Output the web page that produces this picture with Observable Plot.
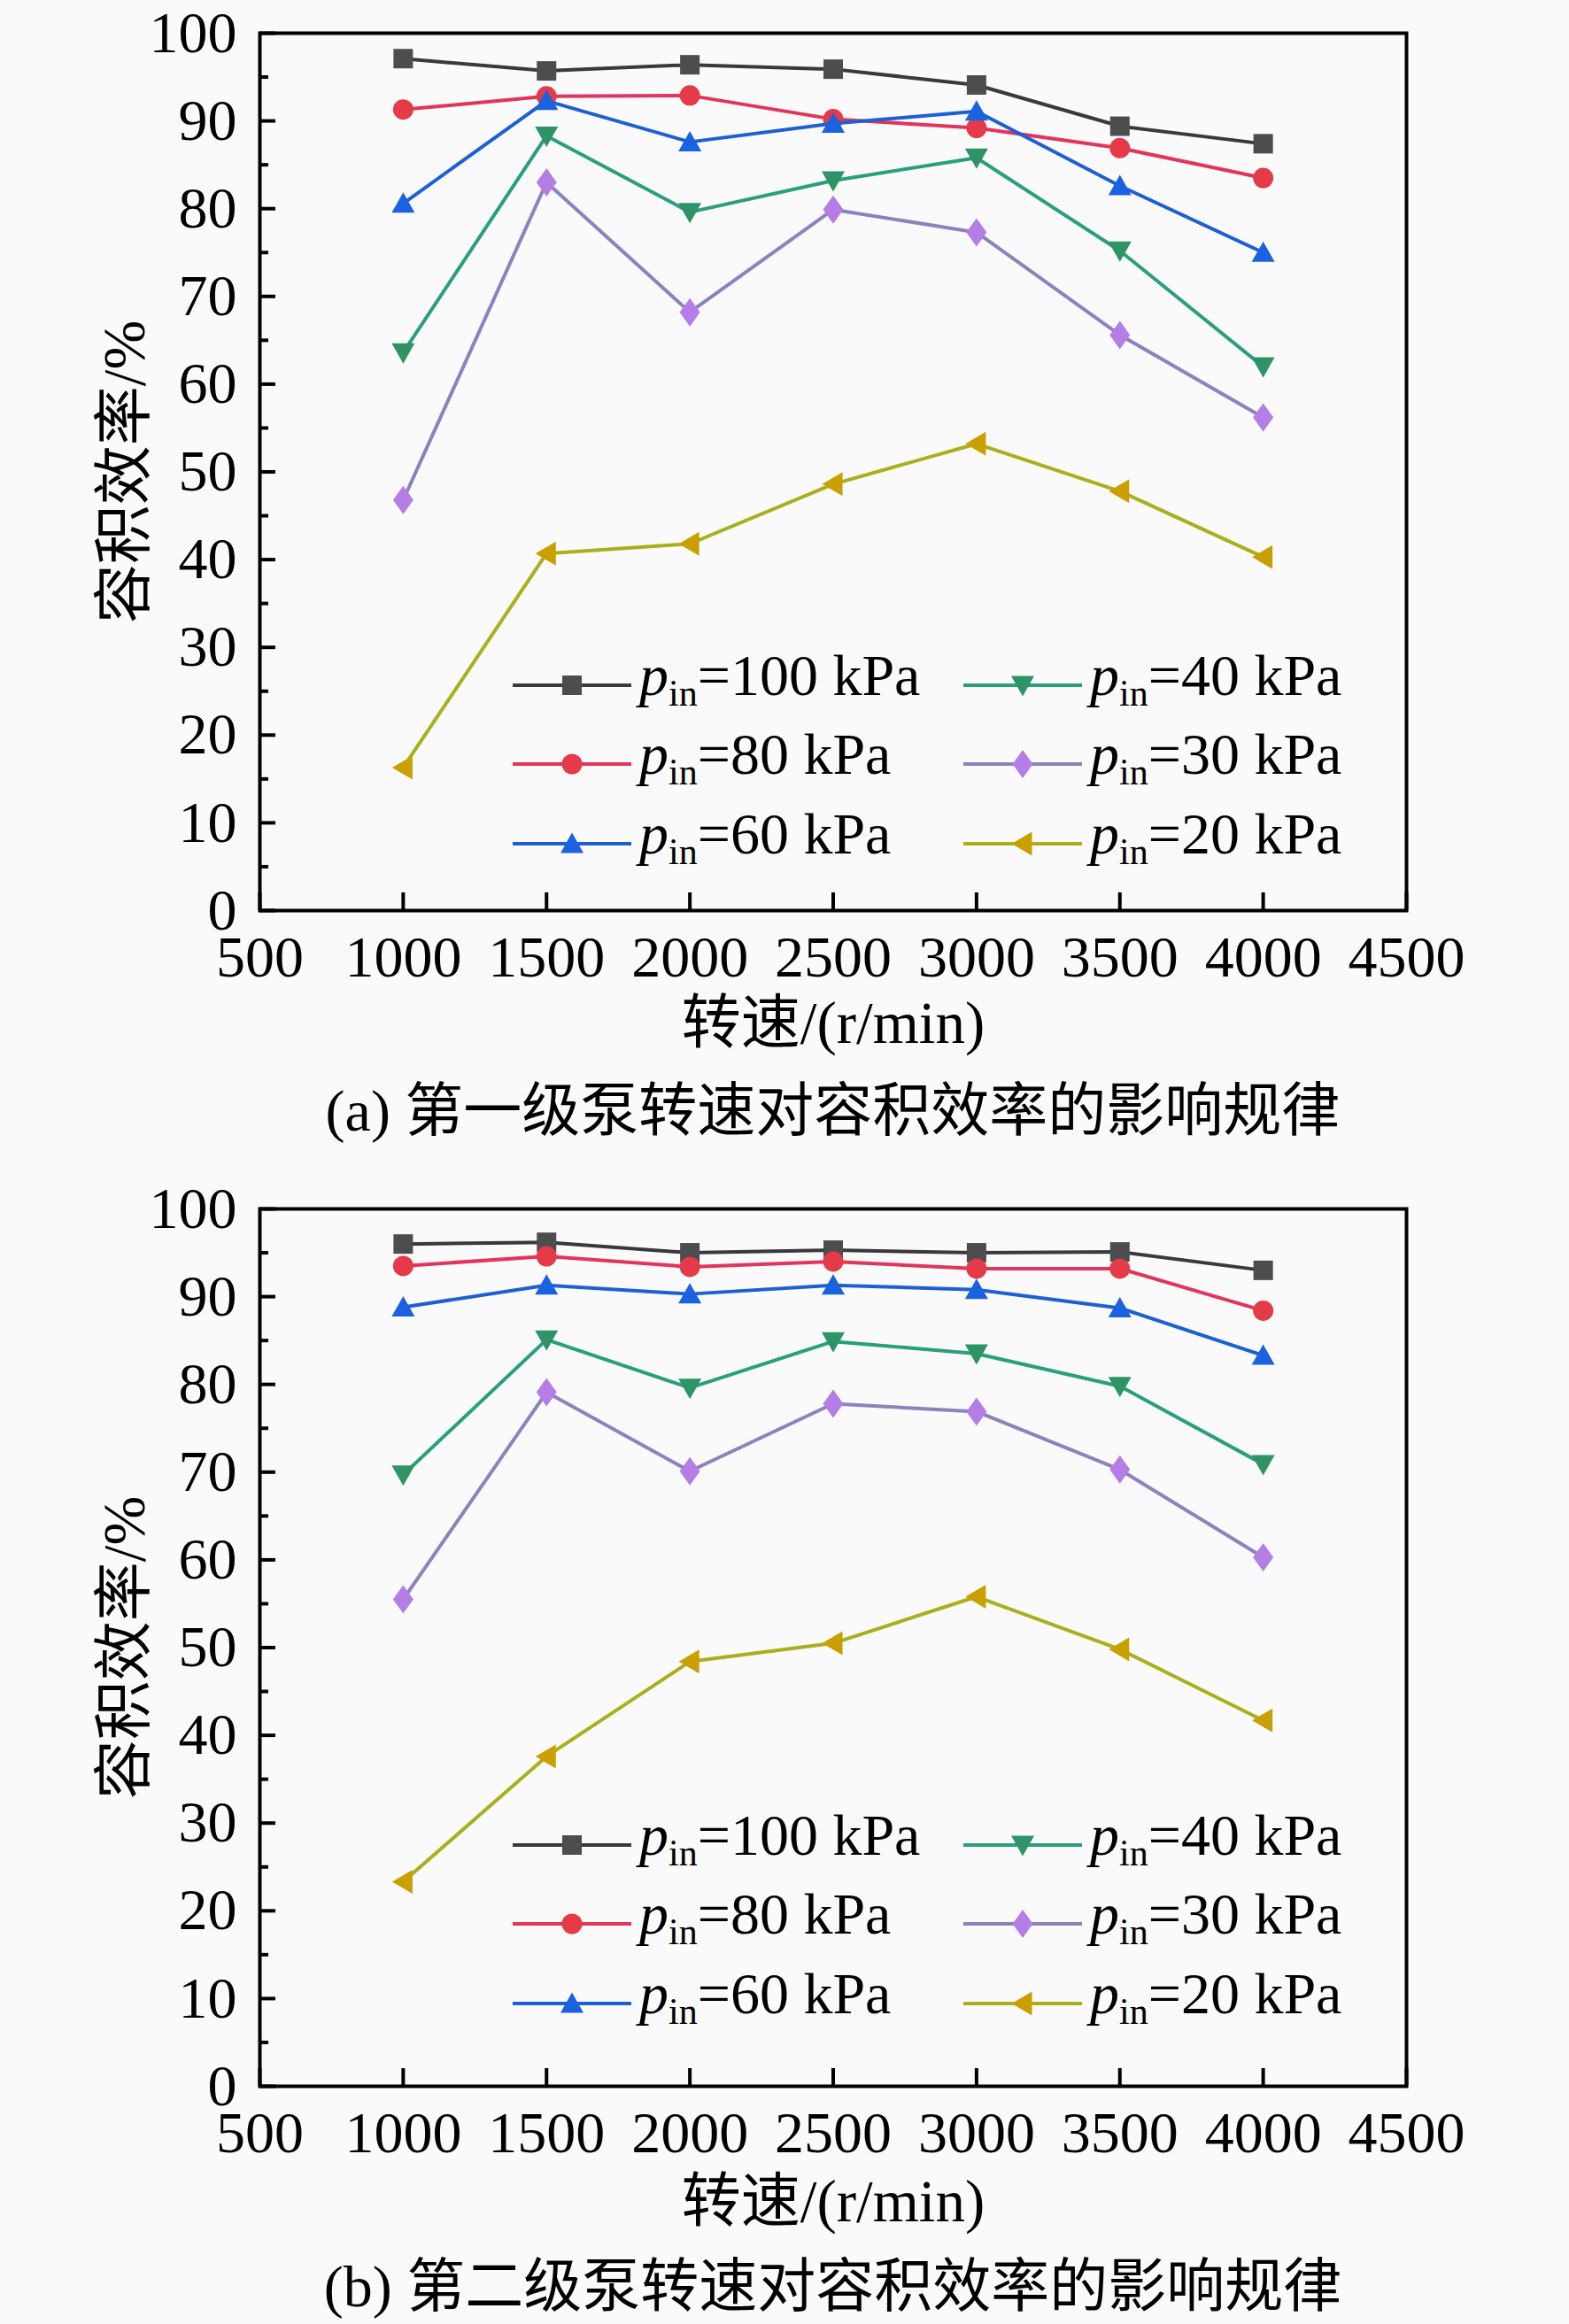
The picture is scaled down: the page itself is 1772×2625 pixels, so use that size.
<!DOCTYPE html>
<html><head><meta charset="utf-8">
<script src="https://cdn.jsdelivr.net/npm/d3@7"></script>
<script src="https://cdn.jsdelivr.net/npm/@observablehq/plot@0.6"></script>
<style>
body{margin:0;background:#fafafa;font-family:"Liberation Serif","Noto Sans CJK SC",serif;color:#000;}
.block{position:relative;width:1772px;}
.caption{height:118px;line-height:90px;width:1295px;margin-left:293px;text-align:center;font-size:66px;white-space:nowrap;}
.lg-sw{position:absolute;}
.lg-tx{position:absolute;font-size:66px;line-height:66px;white-space:nowrap;}
.lg-tx i{font-style:italic;}
.lg-tx sub{font-size:42px;vertical-align:-12px;line-height:0;}
</style></head><body><div id="root"></div>
<script>
// ---- data ----
const speeds = [1000, 1500, 2000, 2500, 3000, 3500, 4000];
const pressures = [100, 80, 60, 40, 30, 20];
const xTicks = [500, 1000, 1500, 2000, 2500, 3000, 3500, 4000, 4500];
const yTicks = [0, 10, 20, 30, 40, 50, 60, 70, 80, 90, 100];
const yMinorTicks = [5, 15, 25, 35, 45, 55, 65, 75, 85, 95];

// Stage 1 (a)
const s1_p100 = [97.1, 95.7, 96.4, 95.9, 94.1, 89.4, 87.4];
const s1_p80  = [91.3, 92.8, 92.9, 90.2, 89.2, 86.9, 83.5];
const s1_p60  = [80.6, 92.3, 87.6, 89.7, 91.1, 82.6, 75.0];
const s1_p40  = [63.6, 88.3, 79.6, 83.2, 85.8, 75.2, 62.0];
const s1_p30  = [46.8, 83.0, 68.2, 79.9, 77.3, 65.6, 56.2];
const s1_p20  = [16.3, 40.7, 41.8, 48.6, 53.2, 47.8, 40.3];
// Stage 2 (b)
const s2_p100 = [96.0, 96.2, 95.0, 95.3, 95.0, 95.1, 93.0];
const s2_p80  = [93.5, 94.6, 93.4, 94.0, 93.2, 93.2, 88.4];
const s2_p60  = [88.8, 91.3, 90.3, 91.3, 90.8, 88.7, 83.3];
const s2_p40  = [69.7, 85.1, 79.6, 84.9, 83.5, 79.8, 70.9];
const s2_p30  = [55.5, 79.1, 70.1, 77.8, 76.9, 70.3, 60.3];
const s2_p20  = [23.3, 37.6, 48.4, 50.5, 55.8, 49.8, 41.7];

const xLabel = "转速/(r/min)";
const yLabel = "容积效率/%";
const captions = ["(a) 第一级泵转速对容积效率的影响规律", "(b) 第二级泵转速对容积效率的影响规律"];

// ---- styles ----
const lineColors   = ["#3a3a3a", "#e2345c", "#1e5fd6", "#2a9f7c", "#8c82bd", "#a9b01c"];
const markerColors = ["#4d4d4d", "#e53a48", "#1a62e0", "#2e9468", "#b57de6", "#c9a000"];

function poly(pts) {
  return { draw(ctx, size) {
    const k = Math.sqrt(size / Math.PI) / 12;
    ctx.moveTo(pts[0][0] * k, pts[0][1] * k);
    for (let i = 1; i < pts.length; i++) ctx.lineTo(pts[i][0] * k, pts[i][1] * k);
    ctx.closePath();
  }};
}
const symCircle = { draw(ctx, size) { const r = Math.sqrt(size / Math.PI) * 11.5 / 12; ctx.moveTo(r, 0); ctx.arc(0, 0, r, 0, 2 * Math.PI); ctx.closePath(); } };
const symbols = [
  poly([[-11, -11], [11, -11], [11, 11], [-11, 11]]),
  symCircle,
  poly([[0, -12.5], [13, 10.5], [-13, 10.5]]),
  poly([[0, 12.5], [13, -10.5], [-13, -10.5]]),
  poly([[0, -16], [11.5, 0], [0, 16], [-11.5, 0]]),
  poly([[-12.5, 0], [10.5, -13.5], [10.5, 13.5]])
];

const stages = [
  {series: [s1_p100, s1_p80, s1_p60, s1_p40, s1_p30, s1_p20], legendRows: [774, 863, 953], xTitleDy: 128},
  {series: [s2_p100, s2_p80, s2_p60, s2_p40, s2_p30, s2_p20], legendRows: [756, 845, 935], xTitleDy: 131}
];

const root = document.getElementById("root");

stages.forEach((st, si) => {
  const block = document.createElement("div");
  block.className = "block";
  const marks = [];
  st.series.forEach((vals, k) => {
    const data = speeds.map((s, i) => ({speed: s, eff: vals[i]}));
    marks.push(Plot.line(data, {x: "speed", y: "eff", stroke: lineColors[k], strokeWidth: 4}));
    marks.push(Plot.dot(data, {x: "speed", y: "eff", symbol: symbols[k], r: 12, fill: markerColors[k], stroke: "none"}));
  });
  const chart = Plot.plot({
    width: 1772,
    height: 1210,
    marginLeft: 293,
    marginRight: 184,
    marginTop: 37,
    marginBottom: 182,
    style: {background: "transparent", fontFamily: "'Liberation Serif','Noto Sans CJK SC',serif", color: "#000"},
    x: {domain: [500, 4500]},
    y: {domain: [0, 100]},
    marks: [
      ...marks,
      Plot.axisX({ticks: xTicks, tickSize: -20, tickPadding: 48, fontSize: 66, strokeWidth: 4, label: null, tickFormat: d => String(d)}),
      Plot.axisY({ticks: yTicks, tickSize: -18, tickPadding: 44, fontSize: 66, strokeWidth: 4, label: null, tickFormat: d => String(d)}),
      Plot.axisY({ticks: yMinorTicks, tickSize: -10, tickPadding: 0, strokeWidth: 4, label: null, tickFormat: () => ""}),
      Plot.frame({stroke: "#000", strokeWidth: 4}),
      Plot.text([xLabel], {text: d => d, frameAnchor: "bottom", dy: st.xTitleDy, fontSize: 67, lineAnchor: "middle", textAnchor: "middle"}),
      Plot.text([yLabel], {text: d => d, frameAnchor: "left", dx: -152, rotate: -90, fontSize: 67, lineAnchor: "middle", textAnchor: "middle"})
    ]
  });
  block.appendChild(chart);

  // legend
  const legendCols = [{sw: 579, tx: 722}, {sw: 1088, tx: 1231}];
  pressures.forEach((p, k) => {
    const col = legendCols[Math.floor(k / 3)];
    const rowY = st.legendRows[k % 3];
    const sw = d3.create("svg").attr("class", "lg-sw").attr("width", 134).attr("height", 40)
      .style("left", col.sw + "px").style("top", (rowY - 20) + "px");
    sw.append("line").attr("x1", 0).attr("x2", 134).attr("y1", 20).attr("y2", 20)
      .attr("stroke", lineColors[k]).attr("stroke-width", 4);
    const path = d3.path();
    symbols[k].draw(path, 12 * 12 * Math.PI);
    sw.append("path").attr("d", path.toString()).attr("transform", "translate(67,20)").attr("fill", markerColors[k]);
    block.appendChild(sw.node());
    const tx = document.createElement("div");
    tx.className = "lg-tx";
    tx.style.left = col.tx + "px";
    tx.style.top = (rowY - 44) + "px";
    tx.innerHTML = `<i>p</i><sub>in</sub>=${p} kPa`;
    block.appendChild(tx);
  });

  const cap = document.createElement("div");
  cap.className = "caption";
  cap.textContent = captions[si];
  block.appendChild(cap);
  root.appendChild(block);
});
</script>
</body></html>
